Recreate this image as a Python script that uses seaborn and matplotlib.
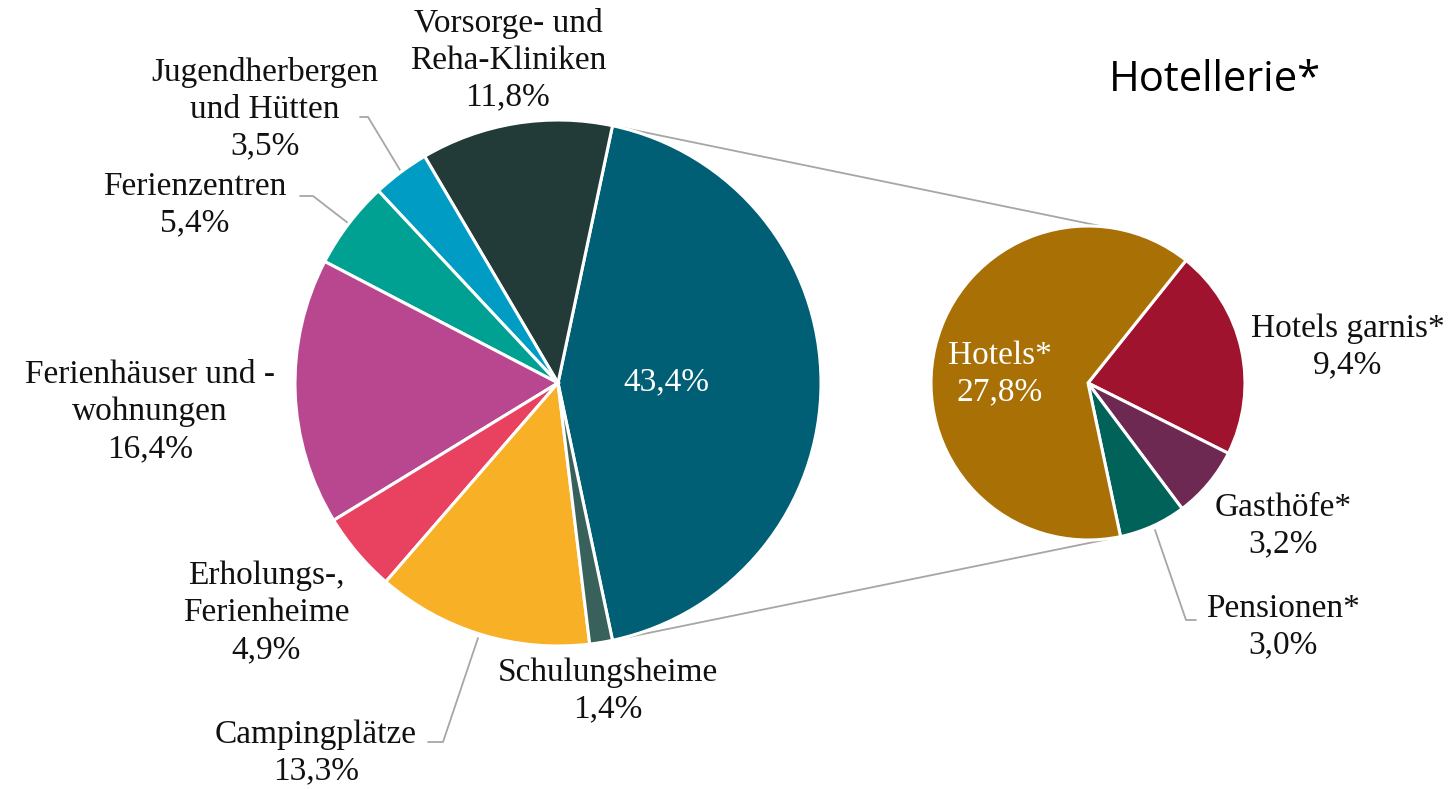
import numpy as np
import seaborn as sns
import matplotlib.pyplot as plt

# main pie: share of overnight stays by type of accommodation (%)
main_labels = ["Hotellerie", "Vorsorge- und\nReha-Kliniken", "Jugendherbergen\nund Hütten",
               "Ferienzentren", "Ferienhäuser und -\nwohnungen", "Erholungs-,\nFerienheime",
               "Campingplätze", "Schulungsheime"]
main_values = [43.4, 11.8, 3.5, 5.4, 16.4, 4.9, 13.3, 1.4]
main_colors = ["#005F75", "#233B38", "#009CC4", "#00A093", "#B9478F", "#E84260", "#F8B127", "#37615A"]

# breakdown of Hotellerie
sub_labels = ["Hotels garnis*", "Gasthöfe*", "Pensionen*", "Hotels*"]
sub_values = [9.4, 3.2, 3.0, 27.8]
sub_colors = ["#A0132F", "#6E2953", "#006258", "#A87005"]

W, H = 1452, 789

def Y(p):
    return H - p

def fmt(v):
    return f"{v:.1f}".replace(".", ",") + "%"

sns.set_theme(style="white")
plt.rcParams['font.family'] = ['Liberation Serif', 'DejaVu Serif']

fig = plt.figure(figsize=(W / 100, H / 100), dpi=100)
ax = fig.add_axes([0, 0, 1, 1])

c_main = (558, Y(383))
r_main = 263
c_sub = (1088, Y(383))
r_sub = 157

start_main = -main_values[0] / sum(main_values) * 180
wedges_main, _ = ax.pie(main_values, colors=main_colors, startangle=start_main, counterclock=True,
                        center=c_main, radius=r_main, frame=True,
                        wedgeprops=dict(edgecolor="white", linewidth=2.2))

start_sub = start_main + sum(sub_values[:3]) / sum(sub_values) * 360
wedges_sub, _ = ax.pie(sub_values, colors=sub_colors, startangle=start_sub, counterclock=False,
                       center=c_sub, radius=r_sub, frame=True,
                       wedgeprops=dict(edgecolor="white", linewidth=2.2))

ax.set_xlim(0, W)
ax.set_ylim(0, H)
ax.set_aspect("equal")
ax.axis("off")

# connector lines from the Hotellerie wedge to the breakdown pie
grey = "#A6A6A6"
w0 = wedges_main[0]
for a_main, a_sub in [(w0.theta2, 84), (w0.theta1, start_main - 1.3)]:
    p1 = (c_main[0] + r_main * np.cos(np.radians(a_main)), c_main[1] + r_main * np.sin(np.radians(a_main)))
    p2 = (c_sub[0] + r_sub * np.cos(np.radians(a_sub)), c_sub[1] + r_sub * np.sin(np.radians(a_sub)))
    ax.plot([p1[0], p2[0]], [p1[1], p2[1]], color=grey, lw=1.3, zorder=0)

fs = 24
txt = dict(fontsize=fs, ha="center", va="center", color="#111111", linespacing=1.27)

# label positions (pixel coordinates of the text centres)
main_pos = [None, (508, 60), (265, 109), (195, 205), (150, 412), (266, 613), (316, 753), (608, 691)]
for lab, v, pos in zip(main_labels, main_values, main_pos):
    if pos is None:
        continue
    ax.text(pos[0], Y(pos[1]), lab + "\n" + fmt(v), **txt)
ax.text(666, Y(382), fmt(main_values[0]), **{**txt, "color": "white"})

sub_pos = [(1348, 347), (1283, 526), (1283, 627), (1000, 374)]
for lab, v, pos in zip(sub_labels, sub_values, sub_pos):
    col = "white" if lab == "Hotels*" else "#111111"
    ax.text(pos[0], Y(pos[1]), lab + "\n" + fmt(v), **{**txt, "color": col})

# leader lines
leaders = [[(360, 117), (368, 117), (400, 170)],
           [(300, 196), (313, 196), (348, 223)],
           [(428, 742), (443, 742), (478, 638)],
           [(1196, 620), (1186, 620), (1155, 530)]]
for pts in leaders:
    xs, ys = zip(*pts)
    ax.plot(xs, [Y(y) for y in ys], color=grey, lw=1.3, zorder=0)

ax.text(1215, Y(80), "Hotellerie*", fontsize=30, ha="center", va="center",
        family=["Open Sans", "DejaVu Sans"], color="black")

fig.savefig("out.png", dpi=100)
